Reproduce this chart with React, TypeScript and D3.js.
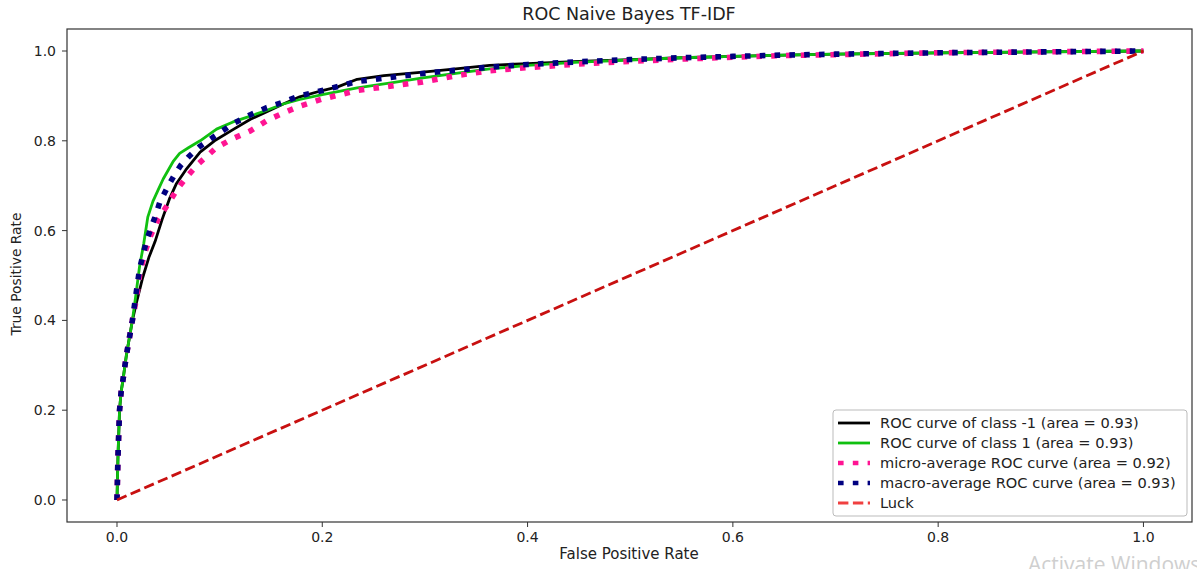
import React from 'react';
import * as d3 from 'd3';

// ROC points: [fpr, tpr]
const classNeg: [number, number][] = [
  [0, 0], [0.0005, 0.05], [0.001, 0.1], [0.0025, 0.2], [0.004, 0.24], [0.006, 0.27],
  [0.009, 0.32], [0.012, 0.36], [0.015, 0.4], [0.019, 0.44], [0.025, 0.495], [0.031, 0.54],
  [0.037, 0.575], [0.044, 0.625], [0.051, 0.67], [0.058, 0.705], [0.067, 0.735], [0.081, 0.775],
  [0.095, 0.8], [0.113, 0.825], [0.13, 0.848], [0.146, 0.865], [0.162, 0.882], [0.178, 0.898],
  [0.2, 0.912], [0.215, 0.92], [0.234, 0.937], [0.26, 0.945], [0.298, 0.953], [0.33, 0.96],
  [0.363, 0.968], [0.4, 0.972], [0.45, 0.977], [0.5, 0.981], [0.55, 0.985], [0.6, 0.988],
  [0.65, 0.991], [0.7, 0.993], [0.8, 0.996], [0.9, 0.998], [1, 1],
];

const classPos: [number, number][] = [
  [0, 0], [0.0005, 0.05], [0.001, 0.1], [0.0025, 0.2], [0.004, 0.24], [0.006, 0.27],
  [0.009, 0.32], [0.012, 0.36], [0.015, 0.4], [0.018, 0.45], [0.022, 0.52], [0.026, 0.57],
  [0.03, 0.63], [0.035, 0.665], [0.04, 0.69], [0.045, 0.715], [0.05, 0.735], [0.055, 0.755],
  [0.061, 0.772], [0.07, 0.785], [0.081, 0.8], [0.097, 0.826], [0.113, 0.842], [0.13, 0.855],
  [0.146, 0.868], [0.162, 0.882], [0.178, 0.892], [0.2, 0.903], [0.234, 0.918], [0.27, 0.93],
  [0.298, 0.94], [0.33, 0.95], [0.363, 0.96], [0.4, 0.968], [0.45, 0.975], [0.5, 0.98],
  [0.55, 0.985], [0.6, 0.988], [0.65, 0.991], [0.7, 0.993], [0.8, 0.996], [0.9, 0.998], [1, 1],
];

const microAvg: [number, number][] = [
  [0, 0], [0.0005, 0.05], [0.001, 0.1], [0.0025, 0.2], [0.004, 0.24], [0.006, 0.27],
  [0.009, 0.32], [0.012, 0.36], [0.015, 0.4], [0.019, 0.45], [0.022, 0.5], [0.027, 0.55],
  [0.033, 0.59], [0.04, 0.625], [0.05, 0.66], [0.058, 0.69], [0.068, 0.72], [0.08, 0.75],
  [0.097, 0.785], [0.113, 0.805], [0.13, 0.822], [0.146, 0.845], [0.162, 0.862], [0.178, 0.877],
  [0.2, 0.893], [0.234, 0.912], [0.27, 0.923], [0.298, 0.931], [0.33, 0.945], [0.363, 0.956],
  [0.4, 0.963], [0.45, 0.971], [0.5, 0.977], [0.55, 0.982], [0.6, 0.986], [0.65, 0.99],
  [0.7, 0.992], [0.8, 0.996], [0.9, 0.998], [1, 1],
];

const macroAvg: [number, number][] = [
  [0, 0], [0.0005, 0.05], [0.001, 0.1], [0.0025, 0.2], [0.004, 0.24], [0.006, 0.27],
  [0.009, 0.32], [0.012, 0.36], [0.015, 0.4], [0.018, 0.45], [0.022, 0.515], [0.029, 0.58],
  [0.037, 0.63], [0.042, 0.665], [0.05, 0.7], [0.055, 0.72], [0.062, 0.745], [0.07, 0.765],
  [0.081, 0.788], [0.095, 0.81], [0.113, 0.838], [0.13, 0.858], [0.146, 0.874], [0.162, 0.886],
  [0.178, 0.9], [0.2, 0.912], [0.234, 0.932], [0.27, 0.942], [0.298, 0.95], [0.33, 0.957],
  [0.363, 0.964], [0.4, 0.97], [0.45, 0.976], [0.5, 0.981], [0.55, 0.985], [0.6, 0.988],
  [0.65, 0.991], [0.7, 0.993], [0.8, 0.996], [0.9, 0.998], [1, 1],
];

const luck: [number, number][] = [[0, 0], [1, 1]];

const ticks = [0, 0.2, 0.4, 0.6, 0.8, 1.0];

const series = [
  { label: 'ROC curve of class -1 (area = 0.93)', data: classNeg, color: '#000000', width: 2.8, dash: null, legendColor: '#000000' },
  { label: 'ROC curve of class 1 (area = 0.93)', data: classPos, color: '#10c010', width: 2.8, dash: null, legendColor: '#10c010' },
  { label: 'micro-average ROC curve (area = 0.92)', data: microAvg, color: '#ff1493', width: 5.6, dash: '5.6 9.2', legendColor: '#ff1493' },
  { label: 'macro-average ROC curve (area = 0.93)', data: macroAvg, color: '#000080', width: 5.6, dash: '5.6 9.2', legendColor: '#000080' },
  { label: 'Luck', data: luck, color: '#c81010', width: 2.8, dash: '10.4 4.5', legendColor: '#f04040' },
];

const W = 1197;
const H = 569;
const plot = { left: 67, right: 1192, top: 29, bottom: 522 };

export default function App() {
  const x = d3.scaleLinear().domain([-0.0487, 1.0473]).range([plot.left, plot.right]);
  const y = d3.scaleLinear().domain([-0.049, 1.049]).range([plot.bottom, plot.top]);
  const line = d3.line<[number, number]>().x(d => x(d[0])).y(d => y(d[1]));
  const font = 'DejaVu Sans, sans-serif';

  return (
    <svg width={W} height={H} style={{ position: 'absolute', left: 0, top: 0, background: '#fff' }} fontFamily={font}>
      <rect width={W} height={H} fill="#fff" />
      <text x={629} y={20} textAnchor="middle" fontSize={17.5} fill="#222">ROC Naive Bayes TF-IDF</text>

      <defs>
        <clipPath id="plotclip">
          <rect x={plot.left} y={plot.top} width={plot.right - plot.left} height={plot.bottom - plot.top} />
        </clipPath>
      </defs>

      <g clipPath="url(#plotclip)">
        {series.map(s => (
          <path key={s.label} d={line(s.data) || ''} fill="none" stroke={s.color} strokeWidth={s.width}
            strokeDasharray={s.dash || undefined} strokeLinejoin="round" />
        ))}
      </g>

      <rect x={plot.left} y={plot.top} width={plot.right - plot.left} height={plot.bottom - plot.top}
        fill="none" stroke="#333" strokeWidth={1.2} />

      {ticks.map(t => (
        <g key={'x' + t}>
          <line x1={x(t)} x2={x(t)} y1={plot.bottom} y2={plot.bottom + 5} stroke="#333" />
          <text x={x(t)} y={542} textAnchor="middle" fontSize={14} fill="#222">{t.toFixed(1)}</text>
        </g>
      ))}
      {ticks.map(t => (
        <g key={'y' + t}>
          <line x1={plot.left - 5} x2={plot.left} y1={y(t)} y2={y(t)} stroke="#333" />
          <text x={56} y={y(t) + 5} textAnchor="end" fontSize={14} fill="#222">{t.toFixed(1)}</text>
        </g>
      ))}

      <text x={629} y={559} textAnchor="middle" fontSize={15} fill="#222">False Positive Rate</text>
      <text transform="translate(21,274) rotate(-90)" textAnchor="middle" fontSize={13.8} fill="#222">True Positive Rate</text>

      <rect x={833} y={410} width={354} height={106} rx={3} fill="#fff" fillOpacity={0.9} stroke="#bbb" />
      {series.map((s, i) => {
        const ly = 423 + i * 20;
        return (
          <g key={'l' + s.label}>
            <line x1={838} x2={870} y1={ly} y2={ly} stroke={s.legendColor}
              strokeWidth={s.dash && s.width > 4 ? 4.5 : 2.8} strokeDasharray={s.dash || undefined} />
            <text x={880} y={ly + 5} fontSize={14.6} fill="#222">{s.label}</text>
          </g>
        );
      })}

      <text x={1028} y={572} fontSize={21} fill="#cfcfcf" fontFamily="Open Sans, sans-serif">Activate Windows</text>
    </svg>
  );
}
